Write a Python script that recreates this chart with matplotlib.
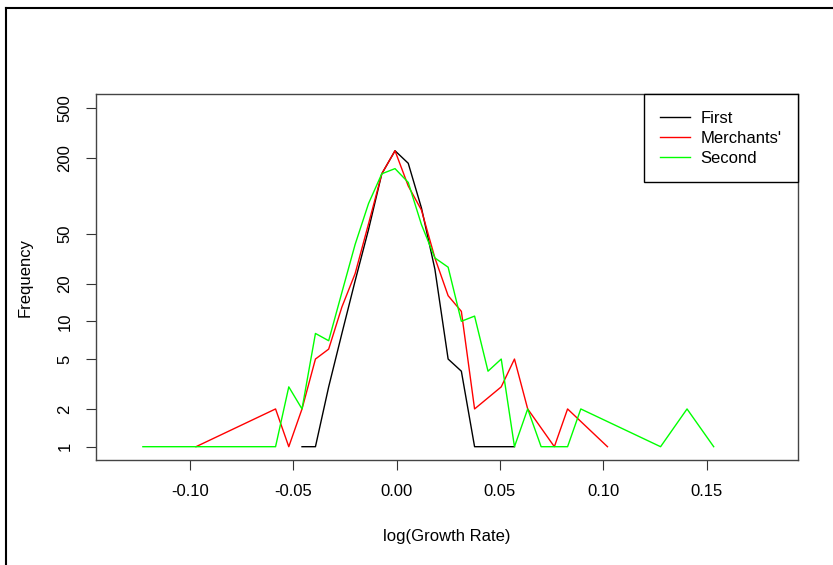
import matplotlib
matplotlib.use("Agg")
import matplotlib.pyplot as plt
from matplotlib.lines import Line2D

plt.rcParams['font.family'] = ['Liberation Sans', 'DejaVu Sans']
plt.rcParams['font.size'] = 12

# log growth rate bin centres and counts for each bank (zero bins left out)
first_x = [-0.0458, -0.0393, -0.0329, -0.0265, -0.0201, -0.0136, -0.0072, -0.0008,
           0.0056, 0.0120, 0.0185, 0.0249, 0.0313, 0.0377, 0.0442, 0.0506, 0.0570]
first_n = [1, 1, 3, 8, 21, 54, 150, 229, 182, 80, 26, 5, 4, 1, 1, 1, 1]

merch_x = [-0.0971, -0.0586, -0.0522, -0.0458, -0.0393, -0.0329, -0.0265, -0.0201,
           -0.0136, -0.0072, -0.0008, 0.0056, 0.0120, 0.0185, 0.0249, 0.0313,
           0.0377, 0.0506, 0.0570, 0.0634, 0.0763, 0.0827, 0.1020]
merch_n = [1, 2, 1, 2, 5, 6, 13, 24, 60, 150, 229, 120, 77, 32, 16, 12,
           2, 3, 5, 2, 1, 2, 1]

second_x = [-0.1228, -0.0586, -0.0522, -0.0458, -0.0393, -0.0329, -0.0265, -0.0201,
            -0.0136, -0.0072, -0.0008, 0.0056, 0.0120, 0.0185, 0.0249, 0.0313,
            0.0377, 0.0442, 0.0506, 0.0570, 0.0634, 0.0699, 0.0827, 0.0891,
            0.1277, 0.1405, 0.1534]
second_n = [1, 1, 3, 2, 8, 7, 17, 41, 87, 150, 165, 128, 59, 32, 27, 10,
            11, 4, 5, 1, 2, 1, 1, 2, 1, 2, 1]

x_ticks = [-0.10, -0.05, 0.00, 0.05, 0.10, 0.15]
y_ticks = [1, 2, 5, 10, 20, 50, 200, 500]

fig = plt.figure(figsize=(8.33, 5.65), dpi=100)
ax = fig.add_axes([0.1152, 0.1858, 0.8428, 0.6478])

ax.plot(first_x, first_n, color='black', lw=1.0, label='First')
ax.plot(merch_x, merch_n, color='#ff0000', lw=1.0, label="Merchants'")
ax.plot(second_x, second_n, color='#00ff00', lw=1.0, label='Second')

ax.set_yscale('log')
ax.set_xlim(-0.1455, 0.1942)
ax.set_ylim(0.783, 649)

ax.set_xticks(x_ticks)
ax.set_xticklabels(['%.2f' % v for v in x_ticks])
ax.set_yticks(y_ticks)
ax.set_yticklabels([str(v) for v in y_ticks], rotation=90, va='center')
ax.minorticks_off()
ax.tick_params(direction='out', length=7, width=0.8, color='#333333', pad=10)

for s in ax.spines.values():
    s.set_color('#444444')
    s.set_linewidth(1.0)

ax.set_xlabel('log(Growth Rate)', labelpad=22)
ax.set_ylabel('Frequency', labelpad=18)

leg = ax.legend(loc='upper right', bbox_to_anchor=(1, 1), borderaxespad=0,
                fancybox=False, framealpha=1, edgecolor='black',
                handlelength=1.8, handletextpad=0.6, labelspacing=0.3,
                borderpad=1.0)
leg.get_frame().set_linewidth(1.0)

# outer frame lines along the top and left edges
fig.add_artist(Line2D([6 / 833, 1], [1 - 7.5 / 565] * 2, color='black', lw=1.5,
                      transform=fig.transFigure))
fig.add_artist(Line2D([6 / 833] * 2, [0, 1 - 7.5 / 565], color='black', lw=1.5,
                      transform=fig.transFigure))

fig.savefig('out.png', dpi=100)
